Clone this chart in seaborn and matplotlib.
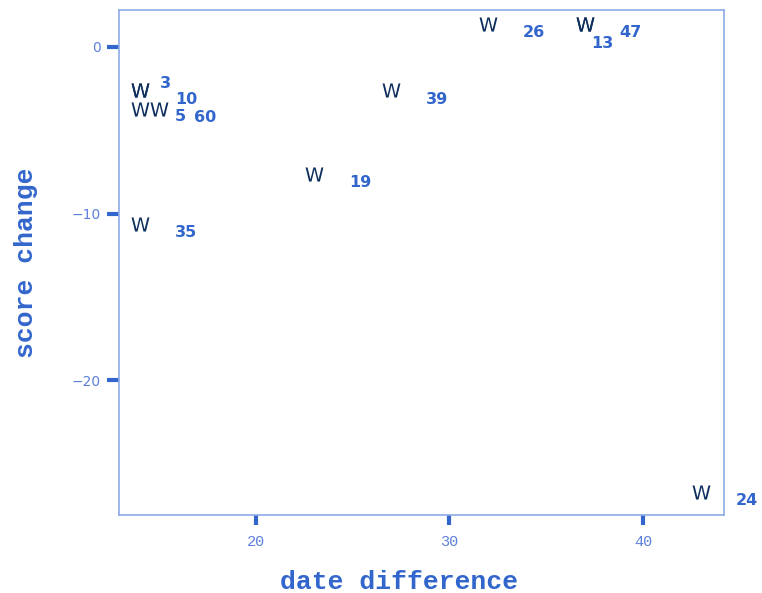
import matplotlib
matplotlib.use("Agg")
import matplotlib.pyplot as plt
import seaborn as sns
import pandas as pd

# values
ids = ["3", "10", "5", "60", "35", "19", "39", "26", "13", "47", "24"]
date_diff = [14, 14, 14, 15, 14, 23, 27, 32, 37, 37, 43]
score_change = [-2.6, -2.6, -3.7, -3.7, -10.6, -7.6, -2.6, 1.4, 1.4, 1.4, -26.7]

df = pd.DataFrame({"id": ids, "date difference": date_diff, "score change": score_change})

# label placement (pixels from the marker), the repelled ones get their own
default_offset = (46, -9)
nudges = {"3": (26, 7), "5": (40, -8), "13": (17, -20)}

blue = "#3366cc"
frame = "#8eaae8"
tick_txt = "#5b80dc"
navy = "#0e2f5e"

sns.set_theme(style="white")
plt.rcParams["font.family"] = ["DejaVu Sans"]

fig = plt.figure(figsize=(7.62, 5.93), dpi=100)
ax = fig.add_axes([0.1562, 0.1315, 0.9501 - 0.1562, 0.9831 - 0.1315])

sns.scatterplot(data=df, x="date difference", y="score change", ax=ax,
                marker=r"$\mathregular{W}$", s=165, color=navy, linewidth=0,
                legend=False)

for _, row in df.iterrows():
    off = nudges.get(row["id"], default_offset)
    ax.annotate(row["id"], (row["date difference"], row["score change"]),
                xytext=off, textcoords="offset pixels", ha="center", va="center",
                fontsize=11.5, fontweight="bold", color=blue, annotation_clip=False)

ax.set_xlim(12.92, 44.19)
ax.set_ylim(-28.1, 2.22)
ax.set_xticks([20, 30, 40])
ax.set_yticks([0, -10, -20])
ax.set_yticklabels(["0", "\u221210", "\u221220"])

for sp in ax.spines.values():
    sp.set_color(frame)
    sp.set_linewidth(1.2)

ax.tick_params(axis="x", bottom=True, direction="out", length=7.5, width=3,
               color=blue, pad=7, labelcolor=tick_txt)
ax.tick_params(axis="y", left=True, direction="out", length=9, width=3,
               color=blue, pad=4, labelcolor=tick_txt)
for lab in ax.get_xticklabels():
    lab.set_family("Liberation Mono")
    lab.set_fontsize(11)
for lab in ax.get_yticklabels():
    lab.set_fontsize(10)

ax.set_xlabel("date difference", family="Liberation Mono", fontweight="bold",
              fontsize=19, color=blue, labelpad=15)
ax.xaxis.label.set_x(0.463)
ax.set_ylabel("score change", family="Liberation Mono", fontweight="bold",
              fontsize=19, color=blue, labelpad=24)

fig.savefig("out.png", dpi=100)
